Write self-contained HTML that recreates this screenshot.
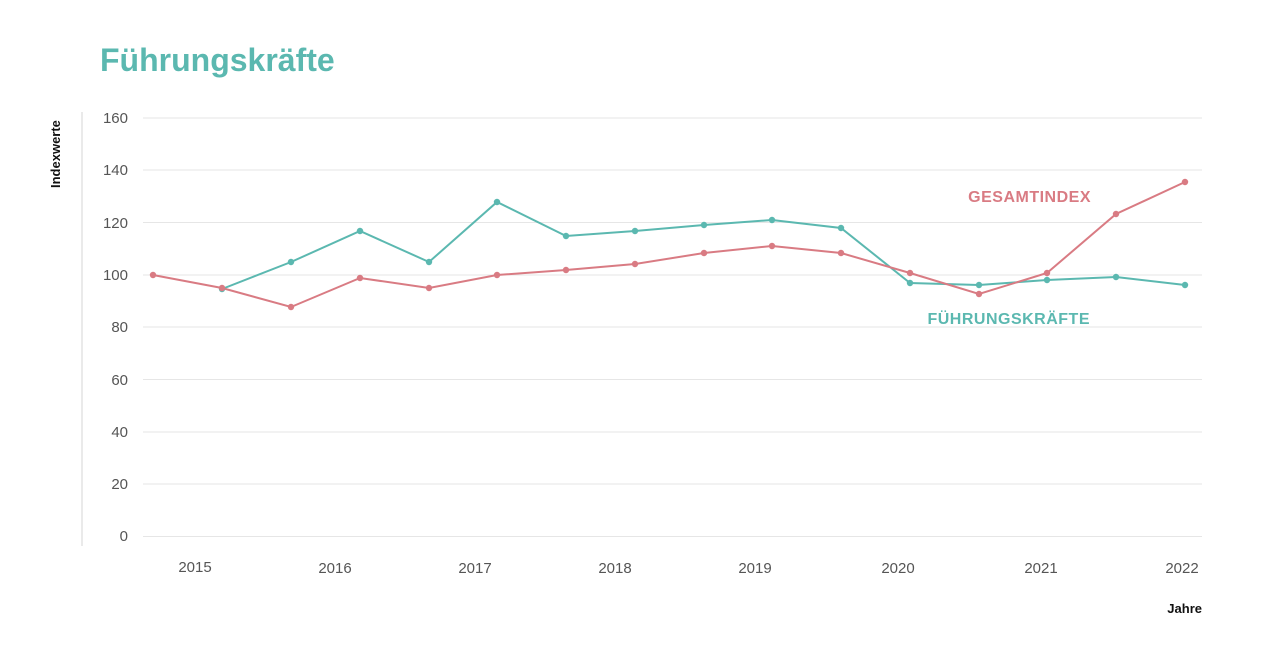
<!DOCTYPE html>
<html><head><meta charset="utf-8"><style>
html,body{margin:0;padding:0;background:#fff;width:1288px;height:666px;overflow:hidden}
</style></head><body>
<svg width="1288" height="666" xmlns="http://www.w3.org/2000/svg" font-family="Liberation Sans, sans-serif">
<text x="100" y="71" font-size="32" font-weight="bold" fill="#5bb8b0">Führungskräfte</text>
<text transform="translate(60,188) rotate(-90)" font-size="13" font-weight="bold" fill="#111">Indexwerte</text>
<line x1="82" y1="112" x2="82" y2="546" stroke="#e4e4e4" stroke-width="1.5"/>
<g stroke="#e6e6e6" stroke-width="1">
<line x1="143" y1="118" x2="1202" y2="118"/><line x1="143" y1="170" x2="1202" y2="170"/>
<line x1="143" y1="222.5" x2="1202" y2="222.5"/><line x1="143" y1="275" x2="1202" y2="275"/>
<line x1="143" y1="327" x2="1202" y2="327"/><line x1="143" y1="379.5" x2="1202" y2="379.5"/>
<line x1="143" y1="432" x2="1202" y2="432"/><line x1="143" y1="484" x2="1202" y2="484"/>
<line x1="143" y1="536.5" x2="1202" y2="536.5"/>
</g>
<g font-size="15" fill="#555" text-anchor="end">
<text x="128" y="123">160</text><text x="128" y="175">140</text><text x="128" y="228">120</text>
<text x="128" y="280">100</text><text x="128" y="332">80</text><text x="128" y="385">60</text>
<text x="128" y="437">40</text><text x="128" y="489">20</text><text x="128" y="541">0</text>
</g>
<g font-size="15" fill="#555" text-anchor="middle">
<text x="195" y="572">2015</text><text x="335" y="573">2016</text><text x="475" y="573">2017</text>
<text x="615" y="573">2018</text><text x="755" y="573">2019</text><text x="898" y="573">2020</text>
<text x="1041" y="573">2021</text><text x="1182" y="573">2022</text>
</g>
<text x="1202" y="613" font-size="13" font-weight="bold" fill="#111" text-anchor="end">Jahre</text>
<polyline fill="none" stroke="#5bb8b0" stroke-width="2" points="222,289 291,262 360,231 429,262 497,202 566,236 635,231 704,225 772,220 841,228 910,283 979,285 1047,280 1116,277 1185,285"/>
<polyline fill="none" stroke="#d97b83" stroke-width="2" points="153,275 222,288 291,307 360,278 429,288 497,275 566,270 635,264 704,253 772,246 841,253 910,273 979,294 1047,273 1116,214 1185,182"/>
<g fill="#5bb8b0">
<circle cx="222" cy="289" r="3.2"/><circle cx="291" cy="262" r="3.2"/><circle cx="360" cy="231" r="3.2"/><circle cx="429" cy="262" r="3.2"/><circle cx="497" cy="202" r="3.2"/><circle cx="566" cy="236" r="3.2"/><circle cx="635" cy="231" r="3.2"/><circle cx="704" cy="225" r="3.2"/><circle cx="772" cy="220" r="3.2"/><circle cx="841" cy="228" r="3.2"/><circle cx="910" cy="283" r="3.2"/><circle cx="979" cy="285" r="3.2"/><circle cx="1047" cy="280" r="3.2"/><circle cx="1116" cy="277" r="3.2"/><circle cx="1185" cy="285" r="3.2"/>
</g>
<g fill="#d97b83">
<circle cx="153" cy="275" r="3.2"/><circle cx="222" cy="288" r="3.2"/><circle cx="291" cy="307" r="3.2"/><circle cx="360" cy="278" r="3.2"/><circle cx="429" cy="288" r="3.2"/><circle cx="497" cy="275" r="3.2"/><circle cx="566" cy="270" r="3.2"/><circle cx="635" cy="264" r="3.2"/><circle cx="704" cy="253" r="3.2"/><circle cx="772" cy="246" r="3.2"/><circle cx="841" cy="253" r="3.2"/><circle cx="910" cy="273" r="3.2"/><circle cx="979" cy="294" r="3.2"/><circle cx="1047" cy="273" r="3.2"/><circle cx="1116" cy="214" r="3.2"/><circle cx="1185" cy="182" r="3.2"/>
</g>
<text x="1091" y="202" font-size="16" font-weight="bold" fill="#d97b83" text-anchor="end" letter-spacing="0.5">GESAMTINDEX</text>
<text x="1090" y="324" font-size="16" font-weight="bold" fill="#5bb8b0" text-anchor="end" letter-spacing="0.5">FÜHRUNGSKRÄFTE</text>
</svg>
</body></html>
